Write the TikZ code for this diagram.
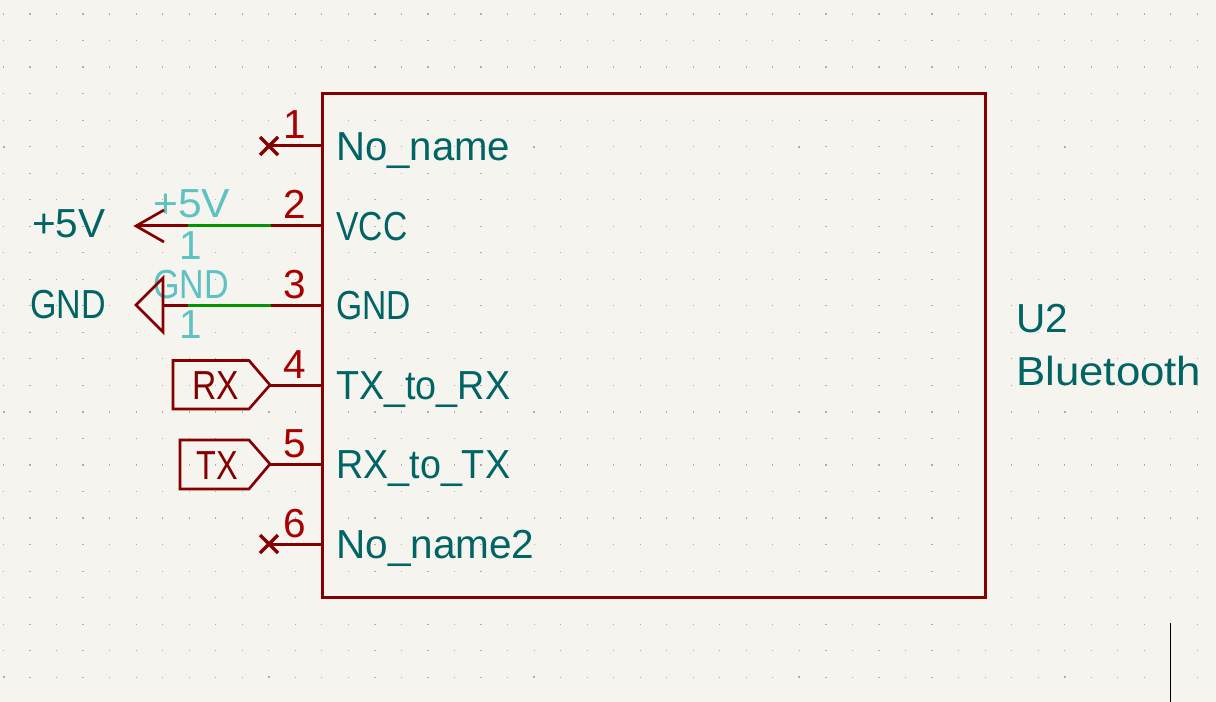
\documentclass[tikz,border=0pt]{standalone}
\usepackage{fontspec}
\setmainfont{Liberation Sans}
\definecolor{sheet}{RGB}{245,244,239}
\definecolor{griddot}{RGB}{175,175,170}
\definecolor{partred}{RGB}{132,0,0}
\definecolor{numred}{RGB}{168,0,0}
\definecolor{nametl}{RGB}{0,100,100}
\definecolor{hiddency}{RGB}{94,194,194}
\definecolor{wiregr}{RGB}{0,150,0}
\newcommand{\sx}[2]{\scalebox{#1}[1]{#2}}
\begin{document}
\begin{tikzpicture}[x=0.75pt,y=-0.75pt, font=\fontsize{30.4pt}{32pt}\selectfont,
  txt/.style={inner sep=0pt,anchor=base west},
  pinname/.style={txt,text=nametl},
  pinnum/.style={inner sep=0pt,anchor=base,text=numred},
  hidden/.style={txt,text=hiddency},
  partline/.style={draw=partred,line width=2.25pt},
  flagline/.style={draw=partred,line width=2pt,line join=miter},
  wire/.style={draw=wiregr,line width=2.25pt},
  nc/.style={draw=partred,line width=2.4pt}]
  \useasboundingbox[fill=sheet] (0,0) rectangle (1216,702);
  % grid
  \foreach \i in {0,...,45}\foreach \j in {0,...,25}
    \fill[griddot] ({3.5+\i*26.53-.6},{14+\j*26.53-.6}) rectangle ++(1.2,1.2);
  \foreach \i in {0,10,...,40}\foreach \j in {5,15,25}
    \fill[griddot] ({3.5+\i*26.53-1},{14+\j*26.53-1}) rectangle ++(2,2);
  % hidden power pin texts
  \node[hidden](pwrval) at (153,218){\sx{1.05}{+5V}};
  \node[hidden](pwrnum) at (179,259){1};
  \node[hidden](gndval) at (153,298){\sx{.84}{GND}};
  \node[hidden](gndnum) at (179,338){1};
  % symbol body
  \coordinate (ul) at (322,94);
  \coordinate (lr) at (985,597);
  \draw[partline] (ul) rectangle (lr);
  \foreach \n/\y/\name/\w in {1/146/No\_name/.99,2/226/VCC/.83,3/305/GND/.83,4/385/TX\_to\_RX/.93,5/464/RX\_to\_TX/.93,6/544/No\_name2/1}{
    \coordinate (p\n) at (322,\y);
    \node[pinname](name\n) at (336,\y+14.5){\sx{\w}{\name}};
    \node[pinnum](num\n) at (295,\y-7){\n};
  }
  \node[pinname](ref) at (1016,332){U2};
  \node[pinname](val) at (1016,385){\sx{1.08}{Bluetooth}};
  % unconnected pins
  \coordinate (x1) at (269,146);
  \coordinate (x6) at (269,544);
  \draw[partline] (x1)--(p1);
  \draw[partline] (x6)--(p6);
  \foreach \c in {x1,x6}\draw[nc] (\c)++(-9,-9)--++(18,18) (\c)++(-9,9)--++(18,-18);
  % +5V
  \coordinate (vtip) at (136,226);
  \coordinate (vw1) at (188,226);
  \coordinate (vw2) at (271,226);
  \draw[partline] (vtip)--(vw1);
  \draw[wire] (vw1)--(vw2);
  \draw[partline] (vw2)--(p2);
  \draw[flagline] (164,210)--(vtip)--(164,242);
  \node[pinname](vlabel) at (32,238){+5V};
  % GND
  \coordinate (gtip) at (136,305);
  \coordinate (gbase) at (163,305);
  \coordinate (gw1) at (188,305);
  \coordinate (gw2) at (271,305);
  \draw[flagline] (163,278)--(gtip)--(163,332)--cycle;
  \draw[partline] (gbase)--(gw1);
  \draw[wire] (gw1)--(gw2);
  \draw[partline] (gw2)--(p3);
  \node[pinname](glabel) at (30,318){\sx{.84}{GND}};
  % global labels
  \coordinate (rxtip) at (270,385);
  \coordinate (txtip) at (270,464);
  \draw[flagline] (173,360.5)--(249,360.5)--(rxtip)--(249,409)--(173,409)--cycle;
  \draw[flagline] (180,440)--(249,440)--(txtip)--(249,489)--(180,489)--cycle;
  \draw[partline] (rxtip)--(p4);
  \draw[partline] (txtip)--(p5);
  \node[txt,text=partred](rx) at (192,399){\sx{.83}{RX}};
  \node[txt,text=partred](tx) at (196,479){\sx{.8}{TX}};
  % cursor
  \coordinate (cur1) at (1170.5,623);
  \coordinate (cur2) at (1170.5,702);
  \draw[black,line width=.75pt] (cur1)--(cur2);
\end{tikzpicture}
\end{document}
